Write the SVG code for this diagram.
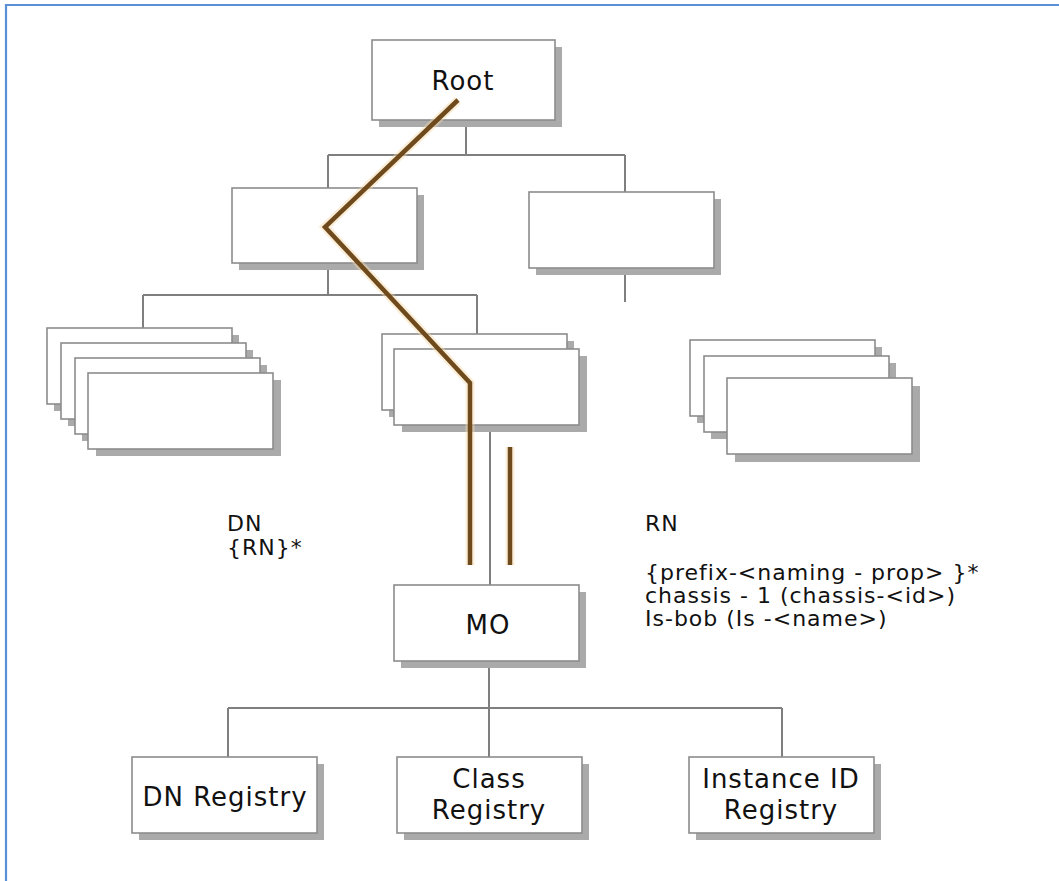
<svg xmlns="http://www.w3.org/2000/svg" width="1059" height="881" viewBox="0 0 1059 881">
<style>
.sh{fill:#aaaaaa;stroke:none}
.bx{fill:#ffffff;stroke:#8c8c8c;stroke-width:1.6}
.ln{fill:none;stroke:#7f7f7f;stroke-width:2}
.br{fill:none;stroke:#6f4a1c;stroke-width:4.5;stroke-linejoin:miter}
.glow{fill:none;stroke:#f7d9a8;stroke-width:9;opacity:0.45}
.t{font-family:"DejaVu Sans",Verdana,sans-serif;fill:#111;letter-spacing:1px}
.big{font-size:26px}
.mid{font-size:22px}
</style>
<rect x="0" y="0" width="1059" height="881" fill="#ffffff"/>
<path d="M6,881 V5 H1059" fill="none" stroke="#5b8fd6" stroke-width="2.2"/>

<g id="connectors">
<path class="ln" d="M466,120 V155 M328,155 H625 M328,155 V188 M625,155 V192"/>
<path class="ln" d="M328,263 V295 M143,295 H477 M143,295 V328 M477,295 V334"/>
<path class="ln" d="M625,268 V302"/>
<path class="ln" d="M490,425 V585"/>
<path class="ln" d="M489,661 V708 M228,708 H782 M228,708 V757 M489,708 V757 M782,708 V757"/>
</g>

<g id="root">
<rect class="sh" x="379" y="47" width="183" height="80"/>
<rect class="bx" x="372" y="40" width="183" height="80"/>
<text class="t big" x="463" y="90" text-anchor="middle">Root</text>
</g>

<g id="left-node">
<rect class="sh" x="239" y="195" width="185" height="75"/>
<rect class="bx" x="232" y="188" width="185" height="75"/>
</g>

<g id="right-node">
<rect class="sh" x="536" y="199" width="185" height="76"/>
<rect class="bx" x="529" y="192" width="185" height="76"/>
</g>

<g id="left-stack">
<rect class="sh" x="54" y="335" width="185" height="76"/>
<rect class="bx" x="47" y="328" width="185" height="76"/>
<rect class="sh" x="68" y="350" width="185" height="76"/>
<rect class="bx" x="61" y="343" width="185" height="76"/>
<rect class="sh" x="82" y="365" width="185" height="76"/>
<rect class="bx" x="75" y="358" width="185" height="76"/>
<rect class="sh" x="96" y="380" width="185" height="76"/>
<rect class="bx" x="88" y="373" width="185" height="76"/>
</g>

<g id="middle-stack">
<rect class="sh" x="389" y="341" width="185" height="76"/>
<rect class="bx" x="382" y="334" width="185" height="76"/>
<rect class="sh" x="402" y="356" width="185" height="76"/>
<rect class="bx" x="394" y="349" width="185" height="76"/>
</g>

<g id="right-stack">
<rect class="sh" x="697" y="347" width="185" height="76"/>
<rect class="bx" x="690" y="340" width="185" height="76"/>
<rect class="sh" x="711" y="363" width="185" height="76"/>
<rect class="bx" x="704" y="356" width="185" height="76"/>
<rect class="sh" x="735" y="386" width="185" height="76"/>
<rect class="bx" x="727" y="378" width="185" height="76"/>
</g>

<g id="mo">
<rect class="sh" x="401" y="592" width="185" height="76"/>
<rect class="bx" x="394" y="585" width="185" height="76"/>
<text class="t big" x="488" y="634" text-anchor="middle">MO</text>
</g>

<g id="dn-registry">
<rect class="sh" x="139" y="764" width="185" height="76"/>
<rect class="bx" x="132" y="757" width="185" height="76"/>
<text class="t big" x="225" y="806" text-anchor="middle">DN Registry</text>
</g>

<g id="class-registry">
<rect class="sh" x="404" y="764" width="185" height="76"/>
<rect class="bx" x="397" y="757" width="185" height="76"/>
<text class="t big" x="489" y="788" text-anchor="middle">Class</text>
<text class="t big" x="489" y="819" text-anchor="middle">Registry</text>
</g>

<g id="instance-registry">
<rect class="sh" x="696" y="764" width="185" height="76"/>
<rect class="bx" x="689" y="757" width="185" height="76"/>
<text class="t big" x="781" y="788" text-anchor="middle">Instance ID</text>
<text class="t big" x="781" y="819" text-anchor="middle">Registry</text>
</g>

<g id="path-lines">
<path class="glow" d="M458,100 L325,227 L470,383 V565 M510,447 V565"/>
<path class="br" d="M458,100 L325,227 L470,383 V565 M510,447 V565"/>
</g>

<g id="labels">
<text class="t mid" x="227" y="531">DN</text>
<text class="t mid" x="227" y="555">{RN}*</text>
<text class="t mid" x="645" y="531">RN</text>
<text class="t mid" x="645" y="580">{prefix-&lt;naming - prop&gt; }*</text>
<text class="t mid" x="645" y="603">chassis - 1 (chassis-&lt;id&gt;)</text>
<text class="t mid" x="645" y="626">Is-bob (Is -&lt;name&gt;)</text>
</g>
</svg>
